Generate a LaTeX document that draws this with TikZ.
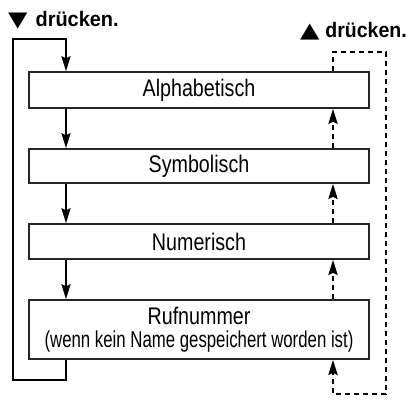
\documentclass[tikz,border=0pt]{standalone}
\usepackage{graphicx}
\usepackage{fontspec}
\setmainfont{Liberation Sans}
\newfontfamily\symfont{DejaVu Sans}
\usetikzlibrary{arrows.meta,calc}
\newcommand{\mainlbl}[1]{\scalebox{0.82}[1]{#1}}
\newcommand{\sublbl}[1]{{\fontsize{23}{23}\selectfont\scalebox{0.73}[1]{#1}}}
\newcommand{\keytri}[1]{{\symfont\fontsize{21}{21}\selectfont\scalebox{1.2}[1]{#1}}}
\begin{document}
\begin{tikzpicture}[x=1pt,y=-1pt,
  box/.style={draw=black!85, line width=1.5pt, minimum width=340pt, inner sep=0pt,
    font=\fontsize{24}{23.3}\selectfont, align=center},
  flow/.style={line width=2pt, -{Stealth[length=15pt,width=9pt,inset=2pt]}},
  back/.style={line width=2.6pt, dash pattern=on 5pt off 4pt,
    -{Stealth[length=15pt,width=9pt,inset=2pt]}},
  keylbl/.style={inner sep=0pt, font=\bfseries\fontsize{21}{24}\selectfont}]
\useasboundingbox (0,0) rectangle (409,401);
\fill[white] (0,0) rectangle (409,401);

\node[box, minimum height=36pt] (b1) at (199,90) {\mainlbl{Alphabetisch}};
\node[box, minimum height=34pt] (b2) at (199,166) {\mainlbl{Symbolisch}};
\node[box, minimum height=35pt] (b3) at (199,241.5) {\mainlbl{Numerisch}};
\node[box, minimum height=59pt] (b4) at (199,329.5) {\mainlbl{Rufnummer}\\\sublbl{(wenn kein Name gespeichert worden ist)}};

\node[keylbl, anchor=base west] (kdown) at (8,27) {\keytri{▼}\hspace{8pt}\scalebox{0.95}[1]{drücken.}};
\node[keylbl, anchor=base east] (kup) at (407,38) {\keytri{▲}\hspace{6pt}\scalebox{0.93}[1]{drücken.}};

\coordinate (L) at (66,0);
\coordinate (R) at (333,0);
\coordinate (lbot) at (13,380);
\coordinate (ltop) at (66,39);
\coordinate (rtop) at (386,52);
\coordinate (rbot) at (333,394);

\draw[flow] (b1.south -| L) -- (b2.north -| L);
\draw[flow] (b2.south -| L) -- (b3.north -| L);
\draw[flow] (b3.south -| L) -- (b4.north -| L);
\draw[flow] (b4.south -| L) |- (lbot) |- (ltop) -- (b1.north -| L);

\draw[back] (b2.north -| R) -- (b1.south -| R);
\draw[back] (b3.north -| R) -- (b2.south -| R);
\draw[back] (b4.north -| R) -- (b3.south -| R);
\draw[back] (b1.north -| R) |- (rtop) |- (rbot) -- (b4.south -| R);
\end{tikzpicture}
\end{document}
